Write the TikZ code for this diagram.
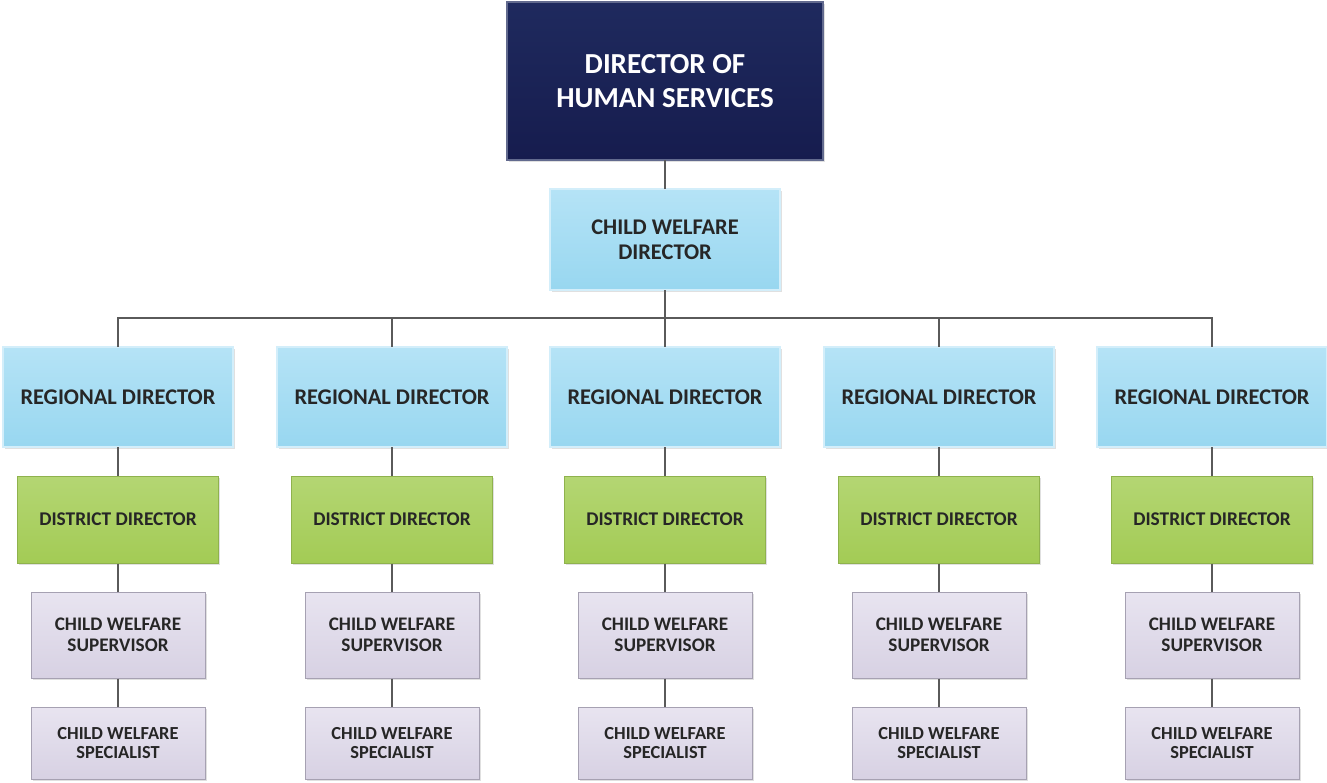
\documentclass[tikz,border=0pt]{standalone}
\usepackage{fontspec}
\setmainfont{Carlito}
\usetikzlibrary{shadows}
\definecolor{navyT}{HTML}{1F2A5E}
\definecolor{navyB}{HTML}{161C4E}
\definecolor{navyD}{HTML}{2A3468}
\definecolor{blueT}{HTML}{B5E3F6}
\definecolor{blueB}{HTML}{98D7F0}
\definecolor{blueD}{HTML}{79ADC6}
\definecolor{greenT}{HTML}{B4D673}
\definecolor{greenB}{HTML}{A3CB55}
\definecolor{greenD}{HTML}{8FB24D}
\definecolor{lavT}{HTML}{E8E4F0}
\definecolor{lavB}{HTML}{D7D1E3}
\definecolor{lavD}{HTML}{A6A1B2}
\definecolor{txt}{HTML}{262626}
\definecolor{conn}{HTML}{5A5A5A}
\tikzset{
  boxbase/.style={rectangle, align=center, inner sep=0pt, text=txt,
    drop shadow={shadow xshift=1.5pt, shadow yshift=-1.5pt, opacity=0.2, fill=black!60}},
  topbox/.style={boxbase, minimum width=316pt, minimum height=158pt,
    top color=navyT, bottom color=navyB, draw=navyD, double=navyT!70!white, double distance=1.2pt, line width=0.8pt,
    text=white, font=\bfseries\fontsize{29}{34}\selectfont},
  bluebox/.style={boxbase, minimum width=230pt,
    top color=blueT, bottom color=blueB, draw=blueD, double=blueT!60!white, double distance=1.2pt, line width=0.8pt,
    font=\bfseries\fontsize{22.4}{25}\selectfont},
  greenbox/.style={boxbase, minimum width=201pt, minimum height=87pt,
    top color=greenT, bottom color=greenB, draw=greenD, line width=1pt,
    font=\bfseries\fontsize{19.4}{22}\selectfont},
  supbox/.style={boxbase, minimum width=174pt, minimum height=86pt,
    top color=lavT, bottom color=lavB, draw=lavD, line width=1pt,
    font=\bfseries\fontsize{19.2}{21}\selectfont},
  specbox/.style={boxbase, minimum width=174pt, minimum height=72pt,
    top color=lavT, bottom color=lavB, draw=lavD, line width=1pt,
    font=\bfseries\fontsize{18.4}{19.5}\selectfont},
  connline/.style={draw=conn, line width=1.3pt}
}
\begin{document}
\begin{tikzpicture}[x=1pt, y=1pt]
\useasboundingbox[fill=white] (0,0) rectangle (1327,-782);
\node[topbox] (top) at (665,-81) {DIRECTOR OF\\HUMAN SERVICES};
\node[bluebox, minimum height=101pt] (cwd) at (665,-239.5) {CHILD WELFARE\\DIRECTOR};
\coordinate (bus) at (665,-318);
\foreach \i/\x in {1/118,2/392,3/665,4/939,5/1212}{
  \node[bluebox, minimum height=100pt] (r\i) at (\x,-397) {REGIONAL DIRECTOR};
  \node[greenbox] (d\i) at (\x,-519.5) {DISTRICT DIRECTOR};
  \node[supbox] (s\i) at (\x,-635) {CHILD WELFARE\\SUPERVISOR};
  \node[specbox] (p\i) at (\x,-743) {CHILD WELFARE\\SPECIALIST};
}
\draw[connline] (top.south) -- (cwd.north);
\draw[connline] (cwd.south) -- (bus);
\foreach \i in {1,...,5}{
  \draw[connline] (r\i.north) |- (bus);
  \draw[connline] (r\i.south) -- (d\i.north);
  \draw[connline] (d\i.south) -- (s\i.north);
  \draw[connline] (s\i.south) -- (p\i.north);
}
\end{tikzpicture}
\end{document}
